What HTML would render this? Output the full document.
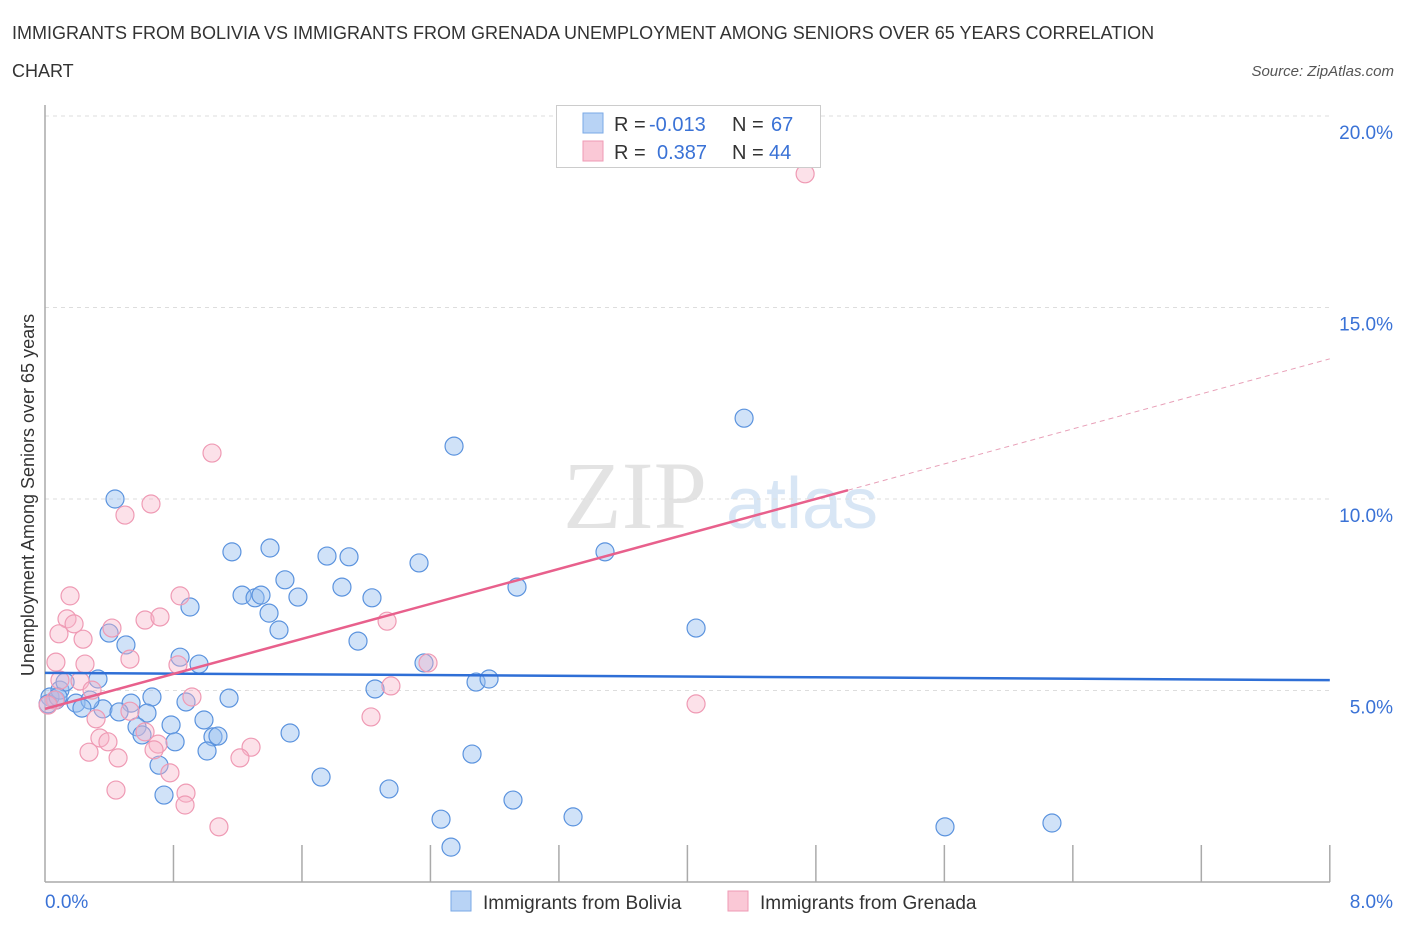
<!DOCTYPE html>
<html><head><meta charset="utf-8"><style>
body{margin:0;background:#fff;font-family:"Liberation Sans",sans-serif}
</style></head><body>
<svg width="1406" height="930" viewBox="0 0 1406 930" xmlns="http://www.w3.org/2000/svg">
<text x="12" y="39" font-size="18" fill="#333">IMMIGRANTS FROM BOLIVIA VS IMMIGRANTS FROM GRENADA UNEMPLOYMENT AMONG SENIORS OVER 65 YEARS CORRELATION</text>
<text x="12" y="77" font-size="18" fill="#333">CHART</text>
<text x="1394" y="76" font-size="15" fill="#555" font-style="italic" text-anchor="end">Source: ZipAtlas.com</text>
<g>
<text x="635" y="528" font-size="96" fill="#ddd" font-family="Liberation Serif,serif" text-anchor="middle" opacity="0.8">ZIP</text>
<text x="802" y="528" font-size="72" fill="#cfe0f3" text-anchor="middle" opacity="0.8">atlas</text>
</g>
<g id="grid"></g>
<g id="axes"></g>
<g id="pts"></g>
<g id="lines"></g>
<text x="34" y="495" font-size="18" fill="#333" text-anchor="middle" transform="rotate(-90 34 495)">Unemployment Among Seniors over 65 years</text>
<g>
<rect x="556.5" y="105.5" width="264" height="62" fill="#fff" stroke="#ccc"/>
<rect x="583" y="113" width="20" height="20" fill="#b8d3f5" stroke="#7aa8e6"/>
<rect x="583" y="141" width="20" height="20" fill="#fac8d6" stroke="#ef9ab4"/>
<text y="131" font-size="20"><tspan x="614" fill="#333">R = </tspan><tspan x="649" fill="#3a72d6">-0.013</tspan><tspan x="732" fill="#333">N = </tspan><tspan x="771" fill="#3a72d6">67</tspan></text>
<text y="159" font-size="20"><tspan x="614" fill="#333">R = </tspan><tspan x="657" fill="#3a72d6">0.387</tspan><tspan x="732" fill="#333">N = </tspan><tspan x="769" fill="#3a72d6">44</tspan></text>
</g>
<g>
<rect x="451" y="891" width="20" height="20" fill="#b8d3f5" stroke="#7aa8e6"/>
<text x="483" y="909" font-size="19" fill="#333">Immigrants from Bolivia</text>
<rect x="728" y="891" width="20" height="20" fill="#fac8d6" stroke="#ef9ab4"/>
<text x="760" y="909" font-size="19" fill="#333">Immigrants from Grenada</text>
</g>
</svg>
<script>
const blueX=[0.436,1.164,1.401,1.756,1.893,2.329,3.487,2.547,4.353,1.494,1.227,1.308,1.345,1.575,1.849,2.036,2.939,0.903,1.395,1.457,1.949,0.399,0.504,0.841,0.959,2.360,4.054,2.684,2.765,2.055,0.330,0.666,1.146,0.878,0.536,0.361,0.461,0.635,0.193,0.068,0.031,0.785,0.990,0.573,0.604,0.810,1.046,1.077,1.009,1.526,0.710,2.659,1.719,2.142,0.741,2.914,3.288,2.466,2.528,5.604,6.270,0.093,0.125,0.280,0.230,0.019,0.081];
const blueY=[10.0,8.62,8.72,8.51,8.49,8.33,8.62,11.38,12.11,7.89,7.49,7.42,7.49,7.44,7.70,7.42,7.70,7.18,7.02,6.58,6.29,6.50,6.19,5.87,5.69,5.72,6.63,5.22,5.30,5.04,5.30,4.83,4.80,4.70,4.67,4.52,4.44,4.41,4.67,4.75,4.83,4.10,4.23,4.05,3.84,3.66,3.79,3.81,3.42,3.89,3.05,3.34,2.74,2.43,2.27,2.14,1.70,1.64,0.91,1.44,1.54,5.01,5.22,4.75,4.54,4.65,4.83];
const pinkX=[4.733,1.040,0.660,0.498,0.156,0.841,0.137,0.181,0.237,0.087,0.623,0.716,0.417,2.130,0.529,0.068,0.249,0.828,2.385,2.154,0.915,0.218,0.293,4.054,2.030,0.318,0.529,0.342,0.392,0.704,0.623,1.283,0.274,0.455,0.679,1.214,0.778,0.442,0.878,0.872,1.083,0.062,0.019,0.093];
const pinkY=[18.49,11.20,9.87,9.58,7.47,7.47,6.87,6.74,6.34,6.48,6.84,6.92,6.63,6.81,5.82,5.74,5.69,5.67,5.72,5.12,4.83,5.25,5.01,4.65,4.31,4.26,4.46,3.76,3.66,3.60,3.92,3.52,3.39,3.24,3.45,3.24,2.85,2.40,2.32,2.01,1.44,4.75,4.62,5.27];
const blueTrend=[5.46,5.27];
const pinkTrend=[4.52,10.23,13.66];
const pinkTrendX=[0,5.0,8.0];
const yTicks=[5,10,15,20];
const yTickLabels=["5.0%","10.0%","15.0%","20.0%"];
const xLabels=["0.0%","8.0%"];
const NS="http://www.w3.org/2000/svg";
const X=v=>45+v*160.6, Y=v=>882-v*38.3;
function mk(tag,attrs,parent){const e=document.createElementNS(NS,tag);for(const k in attrs)e.setAttribute(k,attrs[k]);document.getElementById(parent).appendChild(e);return e;}
yTicks.forEach((t,i)=>{
  const l=mk('line',{x1:45,x2:1330,y1:Y(t),y2:Y(t),stroke:'#ddd','stroke-dasharray':'4 4'},'grid');
  
  
  const tx=mk('text',{x:1393,y:Y(t)+23,'font-size':19,fill:'#3a72d6','text-anchor':'end'},'grid');
  tx.textContent=yTickLabels[i];
  
  
});
const ax=mk('line',{x1:45,x2:45,y1:105,y2:882,stroke:'#aaa','stroke-width':1.5},'axes');


const bx=mk('line',{x1:45,x2:1330,y1:882,y2:882,stroke:'#aaa','stroke-width':1.5},'axes');


for(let i=1;i<=10;i++){
  const t=mk('line',{x1:X(i*0.8),x2:X(i*0.8),y1:845,y2:882,stroke:'#aaa','stroke-width':1.5},'axes');
  
  
}
const xl0=mk('text',{x:45,y:908,'font-size':19,fill:'#3a72d6'},'axes');xl0.textContent=xLabels[0];


const xl1=mk('text',{x:1393,y:908,'font-size':19,fill:'#3a72d6','text-anchor':'end'},'axes');xl1.textContent=xLabels[1];


blueX.forEach((v,i)=>{
  const c=mk('circle',{cx:X(v),cy:Y(blueY[i]),r:9,fill:'rgba(150,190,240,0.45)',stroke:'#5b93de','stroke-width':1.2},'pts');
  
  
});
pinkX.forEach((v,i)=>{
  const c=mk('circle',{cx:X(v),cy:Y(pinkY[i]),r:9,fill:'rgba(248,180,200,0.4)',stroke:'#ef9ab4','stroke-width':1.2},'pts');
  
  
});
const bt=mk('line',{x1:X(0),y1:Y(blueTrend[0]),x2:X(8),y2:Y(blueTrend[1]),stroke:'#2f6fd6','stroke-width':2.5},'lines');


const pt=mk('line',{x1:X(pinkTrendX[0]),y1:Y(pinkTrend[0]),x2:X(pinkTrendX[1]),y2:Y(pinkTrend[1]),stroke:'#e8608c','stroke-width':2.5},'lines');


const pd=mk('line',{x1:X(pinkTrendX[1]),y1:Y(pinkTrend[1]),x2:X(pinkTrendX[2]),y2:Y(pinkTrend[2]),stroke:'#e8a0b8','stroke-width':1,'stroke-dasharray':'5 4'},'lines');


</script>
</body></html>
